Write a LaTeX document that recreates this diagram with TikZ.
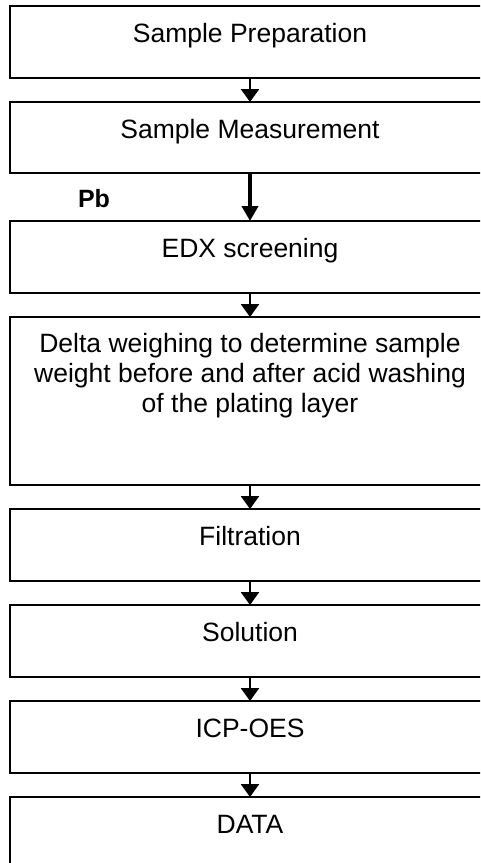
\documentclass[tikz,border=0pt]{standalone}
\usepackage{fontspec}
\setmainfont{Liberation Sans}
\usepackage{tikz}
\usetikzlibrary{positioning,arrows.meta}

\begin{document}
\begin{tikzpicture}[
  x=1pt, y=-1pt,
  node distance=24pt,
  box/.style={draw=black, line width=2pt, fill=white, outer sep=0pt,
    inner xsep=0pt, inner ysep=0pt, minimum width=480pt, align=center,
    font=\fontsize{26.5}{30}\selectfont, text height=36pt, text depth=36pt},
  arr/.style={-{Triangle[width=18pt, length=13pt]}, line width=2.5pt},
  bigarr/.style={-{Triangle[width=16pt, length=15pt]}, line width=4pt}
]
\useasboundingbox (0,0) rectangle (480,863);
\clip (0,0) rectangle (480,863);

\node[box, anchor=north] (prep) at (250,6) {Sample Preparation};
\node[box, below=of prep, text depth=35pt] (meas) {Sample Measurement};
\node[box, below=48pt of meas] (edx) {EDX screening};
\node[box, below=of edx, text depth=73pt, text height=95pt] (delta)
  {Delta weighing to determine sample\\weight before and after acid washing\\of the plating layer};
\node[box, below=of delta] (filt) {Filtration};
\node[box, below=of filt] (sol) {Solution};
\node[box, below=of sol] (icp) {ICP-OES};
\node[box, below=of icp] (data) {DATA};

\node[font=\fontsize{25}{30}\selectfont\bfseries, inner sep=0pt] (pb) at (94,199) {Pb};

\draw[arr] (prep) -- (meas);
\draw[bigarr] (meas) -- (edx);
\draw[arr] (edx) -- (delta);
\draw[arr] (delta) -- (filt);
\draw[arr] (filt) -- (sol);
\draw[arr] (sol) -- (icp);
\draw[arr] (icp) -- (data);
\end{tikzpicture}
\end{document}
